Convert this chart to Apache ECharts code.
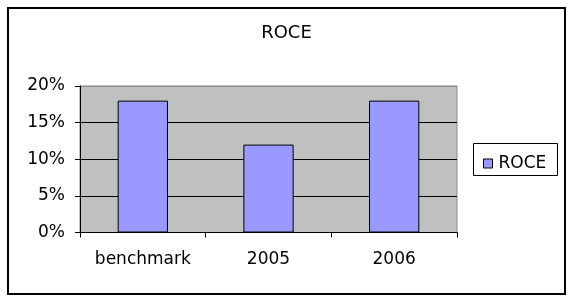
<!DOCTYPE html>
<html>
<head>
<meta charset="utf-8">
<script src="https://cdn.jsdelivr.net/npm/echarts@6/dist/echarts.min.js"></script>
<style>
html,body{margin:0;padding:0;background:#fff;}
#c{width:573px;height:302px;}
</style>
</head>
<body>
<div id="c"></div>
<script>
const categories = ['benchmark', '2005', '2006'];
const roceValues = [0.18, 0.12, 0.18];
const seriesName = 'ROCE';
const chartTitle = 'ROCE';

const chart = echarts.init(document.getElementById('c'), null, {renderer: 'canvas'});
const font = 'DejaVu Sans';
chart.setOption({
  animation: false,
  backgroundColor: '#fff',
  title: {
    text: chartTitle, left: 'center', top: 19,
    textStyle: {fontFamily: font, fontSize: 18, fontWeight: 'normal', color: '#000'}
  },
  graphic: [{
    type: 'rect', shape: {x: 8, y: 8, width: 557, height: 286},
    style: {fill: 'none', stroke: '#000', lineWidth: 2}, silent: true
  }, {
    type: 'rect', shape: {x: 473.5, y: 143.5, width: 84, height: 32},
    style: {fill: '#fff', stroke: '#000', lineWidth: 1}, silent: true, z: 0
  }],
  legend: {
    data: [seriesName], left: 478, top: 150, orient: 'vertical',
    itemWidth: 9, itemHeight: 9, itemGap: 4,
    icon: 'rect',
    textStyle: {fontFamily: font, fontSize: 17, color: '#000', padding: [0,0,0,1]},
    itemStyle: {borderColor: '#000', borderWidth: 1}
  },
  grid: {
    left: 80, right: 116, top: 86, bottom: 69.5,
    show: true, backgroundColor: '#C0C0C0', borderColor: '#8a8a8a', borderWidth: 1
  },
  xAxis: {
    type: 'category', data: categories,
    axisLine: {lineStyle: {color: '#000', width: 1}},
    axisTick: {show: true, length: 5, lineStyle: {color: '#000'}},
    axisLabel: {fontFamily: font, fontSize: 17, color: '#000', margin: 19},
    splitLine: {show: false}
  },
  yAxis: {
    type: 'value', min: 0, max: 0.2, interval: 0.05,
    axisLine: {show: true, lineStyle: {color: '#000', width: 1}},
    axisTick: {show: true, length: 5, lineStyle: {color: '#000'}},
    axisLabel: {fontFamily: font, fontSize: 17, color: '#000', margin: 15,
      formatter: v => Math.round(v * 100) + '%'},
    splitLine: {show: true, lineStyle: {color: ['#000', '#000', '#000', '#000', '#8a8a8a'], width: 1}}
  },
  series: [{
    name: seriesName, type: 'bar', data: roceValues, barWidth: '40%',
    itemStyle: {color: '#9999FF', borderColor: '#000', borderWidth: 1}
  }]
});
</script>
</body>
</html>
